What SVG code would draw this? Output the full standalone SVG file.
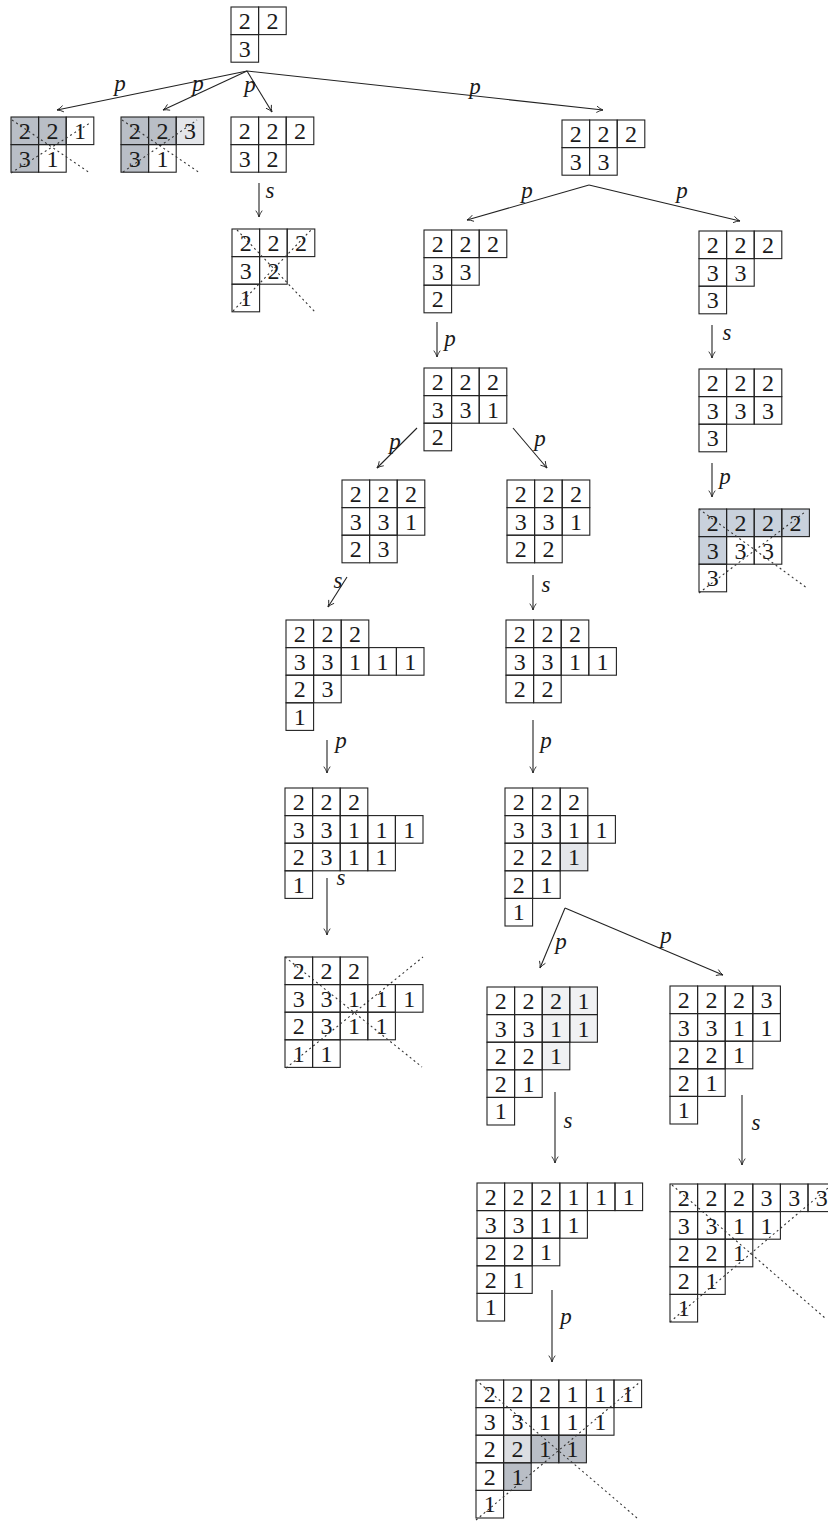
<svg xmlns="http://www.w3.org/2000/svg" width="828" height="1522" viewBox="0 0 828 1522">
<style>
.c{fill:none;stroke:#222;stroke-width:1.1}
.t{font-family:"Liberation Serif","DejaVu Serif",serif;font-size:24px;text-anchor:middle;fill:#1a1a1a}
.d{stroke:#333;stroke-width:1.1;stroke-dasharray:2 3;fill:none}
.a{stroke:#222;stroke-width:1.1;fill:none;marker-end:url(#ah)}
.l{font-family:"Liberation Serif","DejaVu Serif",serif;font-style:italic;font-size:23px;fill:#1a1a1a;text-anchor:middle}
.g{fill:#b9bec6;stroke:none}
.h{fill:#e4e6ea;stroke:none}
.b{fill:#c9d1dc;stroke:none}
</style>
<defs>
<marker id="ah" viewBox="0 0 10 10" refX="9" refY="5" markerWidth="8" markerHeight="8" markerUnits="userSpaceOnUse" orient="auto">
<path d="M1,1 Q5,4 9,5 Q5,6 1,9" fill="none" stroke="#222" stroke-width="1.1"/>
</marker>
</defs>
<rect width="828" height="1522" fill="#fff"/>

<g id="connectors">
<line class="a" x1="247" y1="71" x2="57" y2="110"/>
<line class="a" x1="247" y1="71" x2="163" y2="110"/>
<line class="a" x1="247" y1="71" x2="272" y2="112"/>
<line class="a" x1="247" y1="71" x2="603" y2="110"/>
<line class="a" x1="259" y1="183" x2="259" y2="217"/>
<line class="a" x1="589" y1="185" x2="467" y2="220"/>
<line class="a" x1="589" y1="185" x2="740" y2="221"/>
<line class="a" x1="437" y1="322" x2="437" y2="357"/>
<line class="a" x1="712" y1="325" x2="712" y2="358"/>
<line class="a" x1="417" y1="428" x2="377" y2="468"/>
<line class="a" x1="513" y1="428" x2="547" y2="468"/>
<line class="a" x1="712" y1="463" x2="712" y2="497"/>
<line class="a" x1="347" y1="577" x2="328" y2="607"/>
<line class="a" x1="533" y1="575" x2="533" y2="610"/>
<line class="a" x1="327" y1="740" x2="327" y2="773"/>
<line class="a" x1="533" y1="720" x2="533" y2="773"/>
<line class="a" x1="327" y1="878" x2="327" y2="935"/>
<line class="a" x1="565" y1="908" x2="540" y2="968"/>
<line class="a" x1="565" y1="908" x2="723" y2="975"/>
<line class="a" x1="555" y1="1092" x2="555" y2="1163"/>
<line class="a" x1="742" y1="1095" x2="742" y2="1165"/>
<line class="a" x1="552" y1="1290" x2="552" y2="1362"/>
<text class="l" x="120" y="91">p</text>
<text class="l" x="198" y="91">p</text>
<text class="l" x="250" y="92">p</text>
<text class="l" x="475" y="94">p</text>
<text class="l" x="270" y="198">s</text>
<text class="l" x="527" y="198">p</text>
<text class="l" x="682" y="198">p</text>
<text class="l" x="450" y="346">p</text>
<text class="l" x="727" y="340">s</text>
<text class="l" x="395" y="449">p</text>
<text class="l" x="540" y="446">p</text>
<text class="l" x="725" y="484">p</text>
<text class="l" x="338" y="588">s</text>
<text class="l" x="546" y="592">s</text>
<text class="l" x="341" y="748">p</text>
<text class="l" x="546" y="748">p</text>
<text class="l" x="341" y="885">s</text>
<text class="l" x="561" y="949">p</text>
<text class="l" x="666" y="943">p</text>
<text class="l" x="568" y="1128">s</text>
<text class="l" x="756" y="1130">s</text>
<text class="l" x="566" y="1324">p</text>
</g>

<g id="T0" transform="translate(231,7)">
<rect class="c" x="0" y="0" width="27.6" height="27.6"/><rect class="c" x="27.6" y="0" width="27.6" height="27.6"/>
<rect class="c" x="0" y="27.6" width="27.6" height="27.6"/>
<text class="t" x="13.8" y="22">2</text><text class="t" x="41.4" y="22">2</text>
<text class="t" x="13.8" y="49.6">3</text>
</g>

<g id="T1a" transform="translate(11,117)">
<rect class="g" x="0" y="0" width="55.2" height="27.6"/><rect class="g" x="0" y="27.6" width="27.6" height="27.6"/>
<rect class="c" x="0" y="0" width="27.6" height="27.6"/><rect class="c" x="27.6" y="0" width="27.6" height="27.6"/><rect class="c" x="55.2" y="0" width="27.6" height="27.6"/>
<rect class="c" x="0" y="27.6" width="27.6" height="27.6"/><rect class="c" x="27.6" y="27.6" width="27.6" height="27.6"/>
<text class="t" x="13.8" y="22">2</text><text class="t" x="41.4" y="22">2</text><text class="t" x="69" y="22">1</text>
<text class="t" x="13.8" y="49.6">3</text><text class="t" x="41.4" y="49.6">1</text>
<line class="d" x1="1" y1="3" x2="79" y2="56"/><line class="d" x1="0" y1="56" x2="79" y2="6"/>
</g>

<g id="T1b" transform="translate(121,117)">
<rect class="g" x="0" y="0" width="55.2" height="27.6"/><rect class="g" x="0" y="27.6" width="27.6" height="27.6"/><rect class="h" x="55.2" y="0" width="27.6" height="27.6"/>
<rect class="c" x="0" y="0" width="27.6" height="27.6"/><rect class="c" x="27.6" y="0" width="27.6" height="27.6"/><rect class="c" x="55.2" y="0" width="27.6" height="27.6"/>
<rect class="c" x="0" y="27.6" width="27.6" height="27.6"/><rect class="c" x="27.6" y="27.6" width="27.6" height="27.6"/>
<text class="t" x="13.8" y="22">2</text><text class="t" x="41.4" y="22">2</text><text class="t" x="69" y="22">3</text>
<text class="t" x="13.8" y="49.6">3</text><text class="t" x="41.4" y="49.6">1</text>
<line class="d" x1="1" y1="3" x2="79" y2="56"/><line class="d" x1="2" y1="55" x2="76" y2="3"/>
</g>

<g id="T1c" transform="translate(231,117)">
<rect class="c" x="0" y="0" width="27.6" height="27.6"/><rect class="c" x="27.6" y="0" width="27.6" height="27.6"/><rect class="c" x="55.2" y="0" width="27.6" height="27.6"/>
<rect class="c" x="0" y="27.6" width="27.6" height="27.6"/><rect class="c" x="27.6" y="27.6" width="27.6" height="27.6"/>
<text class="t" x="13.8" y="22">2</text><text class="t" x="41.4" y="22">2</text><text class="t" x="69" y="22">2</text>
<text class="t" x="13.8" y="49.6">3</text><text class="t" x="41.4" y="49.6">2</text>
</g>

<g id="T1d" transform="translate(562,120)">
<rect class="c" x="0" y="0" width="27.6" height="27.6"/><rect class="c" x="27.6" y="0" width="27.6" height="27.6"/><rect class="c" x="55.2" y="0" width="27.6" height="27.6"/>
<rect class="c" x="0" y="27.6" width="27.6" height="27.6"/><rect class="c" x="27.6" y="27.6" width="27.6" height="27.6"/>
<text class="t" x="13.8" y="22">2</text><text class="t" x="41.4" y="22">2</text><text class="t" x="69" y="22">2</text>
<text class="t" x="13.8" y="49.6">3</text><text class="t" x="41.4" y="49.6">3</text>
</g>

<g id="T2c" transform="translate(232,229)">
<rect class="c" x="0" y="0" width="27.6" height="27.6"/><rect class="c" x="27.6" y="0" width="27.6" height="27.6"/><rect class="c" x="55.2" y="0" width="27.6" height="27.6"/>
<rect class="c" x="0" y="27.6" width="27.6" height="27.6"/><rect class="c" x="27.6" y="27.6" width="27.6" height="27.6"/>
<rect class="c" x="0" y="55.2" width="27.6" height="27.6"/>
<text class="t" x="13.8" y="22">2</text><text class="t" x="41.4" y="22">2</text><text class="t" x="69" y="22">2</text>
<text class="t" x="13.8" y="49.6">3</text><text class="t" x="41.4" y="49.6">2</text>
<text class="t" x="13.8" y="77.2">1</text>
<line class="d" x1="5" y1="1" x2="83" y2="83"/><line class="d" x1="1" y1="82" x2="80" y2="0"/>
</g>

<g id="T2a" transform="translate(424,230)">
<rect class="c" x="0" y="0" width="27.6" height="27.6"/><rect class="c" x="27.6" y="0" width="27.6" height="27.6"/><rect class="c" x="55.2" y="0" width="27.6" height="27.6"/>
<rect class="c" x="0" y="27.6" width="27.6" height="27.6"/><rect class="c" x="27.6" y="27.6" width="27.6" height="27.6"/>
<rect class="c" x="0" y="55.2" width="27.6" height="27.6"/>
<text class="t" x="13.8" y="22">2</text><text class="t" x="41.4" y="22">2</text><text class="t" x="69" y="22">2</text>
<text class="t" x="13.8" y="49.6">3</text><text class="t" x="41.4" y="49.6">3</text>
<text class="t" x="13.8" y="77.2">2</text>
</g>

<g id="T2b" transform="translate(699,231)">
<rect class="c" x="0" y="0" width="27.6" height="27.6"/><rect class="c" x="27.6" y="0" width="27.6" height="27.6"/><rect class="c" x="55.2" y="0" width="27.6" height="27.6"/>
<rect class="c" x="0" y="27.6" width="27.6" height="27.6"/><rect class="c" x="27.6" y="27.6" width="27.6" height="27.6"/>
<rect class="c" x="0" y="55.2" width="27.6" height="27.6"/>
<text class="t" x="13.8" y="22">2</text><text class="t" x="41.4" y="22">2</text><text class="t" x="69" y="22">2</text>
<text class="t" x="13.8" y="49.6">3</text><text class="t" x="41.4" y="49.6">3</text>
<text class="t" x="13.8" y="77.2">3</text>
</g>

<g id="T3" transform="translate(424,368)">
<rect class="c" x="0" y="0" width="27.6" height="27.6"/><rect class="c" x="27.6" y="0" width="27.6" height="27.6"/><rect class="c" x="55.2" y="0" width="27.6" height="27.6"/>
<rect class="c" x="0" y="27.6" width="27.6" height="27.6"/><rect class="c" x="27.6" y="27.6" width="27.6" height="27.6"/><rect class="c" x="55.2" y="27.6" width="27.6" height="27.6"/>
<rect class="c" x="0" y="55.2" width="27.6" height="27.6"/>
<text class="t" x="13.8" y="22">2</text><text class="t" x="41.4" y="22">2</text><text class="t" x="69" y="22">2</text>
<text class="t" x="13.8" y="49.6">3</text><text class="t" x="41.4" y="49.6">3</text><text class="t" x="69" y="49.6">1</text>
<text class="t" x="13.8" y="77.2">2</text>
</g>

<g id="T3b" transform="translate(699,369)">
<rect class="c" x="0" y="0" width="27.6" height="27.6"/><rect class="c" x="27.6" y="0" width="27.6" height="27.6"/><rect class="c" x="55.2" y="0" width="27.6" height="27.6"/>
<rect class="c" x="0" y="27.6" width="27.6" height="27.6"/><rect class="c" x="27.6" y="27.6" width="27.6" height="27.6"/><rect class="c" x="55.2" y="27.6" width="27.6" height="27.6"/>
<rect class="c" x="0" y="55.2" width="27.6" height="27.6"/>
<text class="t" x="13.8" y="22">2</text><text class="t" x="41.4" y="22">2</text><text class="t" x="69" y="22">2</text>
<text class="t" x="13.8" y="49.6">3</text><text class="t" x="41.4" y="49.6">3</text><text class="t" x="69" y="49.6">3</text>
<text class="t" x="13.8" y="77.2">3</text>
</g>

<g id="T4a" transform="translate(342,480)">
<rect class="c" x="0" y="0" width="27.6" height="27.6"/><rect class="c" x="27.6" y="0" width="27.6" height="27.6"/><rect class="c" x="55.2" y="0" width="27.6" height="27.6"/>
<rect class="c" x="0" y="27.6" width="27.6" height="27.6"/><rect class="c" x="27.6" y="27.6" width="27.6" height="27.6"/><rect class="c" x="55.2" y="27.6" width="27.6" height="27.6"/>
<rect class="c" x="0" y="55.2" width="27.6" height="27.6"/><rect class="c" x="27.6" y="55.2" width="27.6" height="27.6"/>
<text class="t" x="13.8" y="22">2</text><text class="t" x="41.4" y="22">2</text><text class="t" x="69" y="22">2</text>
<text class="t" x="13.8" y="49.6">3</text><text class="t" x="41.4" y="49.6">3</text><text class="t" x="69" y="49.6">1</text>
<text class="t" x="13.8" y="77.2">2</text><text class="t" x="41.4" y="77.2">3</text>
</g>

<g id="T4b" transform="translate(507,480)">
<rect class="c" x="0" y="0" width="27.6" height="27.6"/><rect class="c" x="27.6" y="0" width="27.6" height="27.6"/><rect class="c" x="55.2" y="0" width="27.6" height="27.6"/>
<rect class="c" x="0" y="27.6" width="27.6" height="27.6"/><rect class="c" x="27.6" y="27.6" width="27.6" height="27.6"/><rect class="c" x="55.2" y="27.6" width="27.6" height="27.6"/>
<rect class="c" x="0" y="55.2" width="27.6" height="27.6"/><rect class="c" x="27.6" y="55.2" width="27.6" height="27.6"/>
<text class="t" x="13.8" y="22">2</text><text class="t" x="41.4" y="22">2</text><text class="t" x="69" y="22">2</text>
<text class="t" x="13.8" y="49.6">3</text><text class="t" x="41.4" y="49.6">3</text><text class="t" x="69" y="49.6">1</text>
<text class="t" x="13.8" y="77.2">2</text><text class="t" x="41.4" y="77.2">2</text>
</g>

<g id="T4c" transform="translate(699,509)">
<rect class="b" x="0" y="0" width="110.4" height="27.6"/><rect class="b" x="0" y="27.6" width="27.6" height="27.6"/>
<rect class="c" x="0" y="0" width="27.6" height="27.6"/><rect class="c" x="27.6" y="0" width="27.6" height="27.6"/><rect class="c" x="55.2" y="0" width="27.6" height="27.6"/><rect class="c" x="82.8" y="0" width="27.6" height="27.6"/>
<rect class="c" x="0" y="27.6" width="27.6" height="27.6"/><rect class="c" x="27.6" y="27.6" width="27.6" height="27.6"/><rect class="c" x="55.2" y="27.6" width="27.6" height="27.6"/>
<rect class="c" x="0" y="55.2" width="27.6" height="27.6"/>
<text class="t" x="13.8" y="22">2</text><text class="t" x="41.4" y="22">2</text><text class="t" x="69" y="22">2</text><text class="t" x="96.6" y="22">2</text>
<text class="t" x="13.8" y="49.6">3</text><text class="t" x="41.4" y="49.6">3</text><text class="t" x="69" y="49.6">3</text>
<text class="t" x="13.8" y="77.2">3</text>
<line class="d" x1="0" y1="0" x2="108" y2="79"/><line class="d" x1="0" y1="84" x2="106" y2="3"/>
</g>

<g id="T5a" transform="translate(286,620)">
<rect class="c" x="0" y="0" width="27.6" height="27.6"/><rect class="c" x="27.6" y="0" width="27.6" height="27.6"/><rect class="c" x="55.2" y="0" width="27.6" height="27.6"/>
<rect class="c" x="0" y="27.6" width="27.6" height="27.6"/><rect class="c" x="27.6" y="27.6" width="27.6" height="27.6"/><rect class="c" x="55.2" y="27.6" width="27.6" height="27.6"/><rect class="c" x="82.8" y="27.6" width="27.6" height="27.6"/><rect class="c" x="110.4" y="27.6" width="27.6" height="27.6"/>
<rect class="c" x="0" y="55.2" width="27.6" height="27.6"/><rect class="c" x="27.6" y="55.2" width="27.6" height="27.6"/>
<rect class="c" x="0" y="82.8" width="27.6" height="27.6"/>
<text class="t" x="13.8" y="22">2</text><text class="t" x="41.4" y="22">2</text><text class="t" x="69" y="22">2</text>
<text class="t" x="13.8" y="49.6">3</text><text class="t" x="41.4" y="49.6">3</text><text class="t" x="69" y="49.6">1</text><text class="t" x="96.6" y="49.6">1</text><text class="t" x="124.2" y="49.6">1</text>
<text class="t" x="13.8" y="77.2">2</text><text class="t" x="41.4" y="77.2">3</text>
<text class="t" x="13.8" y="104.8">1</text>
</g>

<g id="T5b" transform="translate(506,620)">
<rect class="c" x="0" y="0" width="27.6" height="27.6"/><rect class="c" x="27.6" y="0" width="27.6" height="27.6"/><rect class="c" x="55.2" y="0" width="27.6" height="27.6"/>
<rect class="c" x="0" y="27.6" width="27.6" height="27.6"/><rect class="c" x="27.6" y="27.6" width="27.6" height="27.6"/><rect class="c" x="55.2" y="27.6" width="27.6" height="27.6"/><rect class="c" x="82.8" y="27.6" width="27.6" height="27.6"/>
<rect class="c" x="0" y="55.2" width="27.6" height="27.6"/><rect class="c" x="27.6" y="55.2" width="27.6" height="27.6"/>
<text class="t" x="13.8" y="22">2</text><text class="t" x="41.4" y="22">2</text><text class="t" x="69" y="22">2</text>
<text class="t" x="13.8" y="49.6">3</text><text class="t" x="41.4" y="49.6">3</text><text class="t" x="69" y="49.6">1</text><text class="t" x="96.6" y="49.6">1</text>
<text class="t" x="13.8" y="77.2">2</text><text class="t" x="41.4" y="77.2">2</text>
</g>

<g id="T6a" transform="translate(285,788)">
<rect class="c" x="0" y="0" width="27.6" height="27.6"/><rect class="c" x="27.6" y="0" width="27.6" height="27.6"/><rect class="c" x="55.2" y="0" width="27.6" height="27.6"/>
<rect class="c" x="0" y="27.6" width="27.6" height="27.6"/><rect class="c" x="27.6" y="27.6" width="27.6" height="27.6"/><rect class="c" x="55.2" y="27.6" width="27.6" height="27.6"/><rect class="c" x="82.8" y="27.6" width="27.6" height="27.6"/><rect class="c" x="110.4" y="27.6" width="27.6" height="27.6"/>
<rect class="c" x="0" y="55.2" width="27.6" height="27.6"/><rect class="c" x="27.6" y="55.2" width="27.6" height="27.6"/><rect class="c" x="55.2" y="55.2" width="27.6" height="27.6"/><rect class="c" x="82.8" y="55.2" width="27.6" height="27.6"/>
<rect class="c" x="0" y="82.8" width="27.6" height="27.6"/>
<text class="t" x="13.8" y="22">2</text><text class="t" x="41.4" y="22">2</text><text class="t" x="69" y="22">2</text>
<text class="t" x="13.8" y="49.6">3</text><text class="t" x="41.4" y="49.6">3</text><text class="t" x="69" y="49.6">1</text><text class="t" x="96.6" y="49.6">1</text><text class="t" x="124.2" y="49.6">1</text>
<text class="t" x="13.8" y="77.2">2</text><text class="t" x="41.4" y="77.2">3</text><text class="t" x="69" y="77.2">1</text><text class="t" x="96.6" y="77.2">1</text>
<text class="t" x="13.8" y="104.8">1</text>
</g>

<g id="T6b" transform="translate(505,788)">
<rect class="h" x="55.2" y="55.2" width="27.6" height="27.6"/>
<rect class="c" x="0" y="0" width="27.6" height="27.6"/><rect class="c" x="27.6" y="0" width="27.6" height="27.6"/><rect class="c" x="55.2" y="0" width="27.6" height="27.6"/>
<rect class="c" x="0" y="27.6" width="27.6" height="27.6"/><rect class="c" x="27.6" y="27.6" width="27.6" height="27.6"/><rect class="c" x="55.2" y="27.6" width="27.6" height="27.6"/><rect class="c" x="82.8" y="27.6" width="27.6" height="27.6"/>
<rect class="c" x="0" y="55.2" width="27.6" height="27.6"/><rect class="c" x="27.6" y="55.2" width="27.6" height="27.6"/><rect class="c" x="55.2" y="55.2" width="27.6" height="27.6"/>
<rect class="c" x="0" y="82.8" width="27.6" height="27.6"/><rect class="c" x="27.6" y="82.8" width="27.6" height="27.6"/>
<rect class="c" x="0" y="110.4" width="27.6" height="27.6"/>
<text class="t" x="13.8" y="22">2</text><text class="t" x="41.4" y="22">2</text><text class="t" x="69" y="22">2</text>
<text class="t" x="13.8" y="49.6">3</text><text class="t" x="41.4" y="49.6">3</text><text class="t" x="69" y="49.6">1</text><text class="t" x="96.6" y="49.6">1</text>
<text class="t" x="13.8" y="77.2">2</text><text class="t" x="41.4" y="77.2">2</text><text class="t" x="69" y="77.2">1</text>
<text class="t" x="13.8" y="104.8">2</text><text class="t" x="41.4" y="104.8">1</text>
<text class="t" x="13.8" y="132.4">1</text>
</g>

<g id="T7a" transform="translate(285,957)">
<rect class="c" x="0" y="0" width="27.6" height="27.6"/><rect class="c" x="27.6" y="0" width="27.6" height="27.6"/><rect class="c" x="55.2" y="0" width="27.6" height="27.6"/>
<rect class="c" x="0" y="27.6" width="27.6" height="27.6"/><rect class="c" x="27.6" y="27.6" width="27.6" height="27.6"/><rect class="c" x="55.2" y="27.6" width="27.6" height="27.6"/><rect class="c" x="82.8" y="27.6" width="27.6" height="27.6"/><rect class="c" x="110.4" y="27.6" width="27.6" height="27.6"/>
<rect class="c" x="0" y="55.2" width="27.6" height="27.6"/><rect class="c" x="27.6" y="55.2" width="27.6" height="27.6"/><rect class="c" x="55.2" y="55.2" width="27.6" height="27.6"/><rect class="c" x="82.8" y="55.2" width="27.6" height="27.6"/>
<rect class="c" x="0" y="82.8" width="27.6" height="27.6"/><rect class="c" x="27.6" y="82.8" width="27.6" height="27.6"/>
<text class="t" x="13.8" y="22">2</text><text class="t" x="41.4" y="22">2</text><text class="t" x="69" y="22">2</text>
<text class="t" x="13.8" y="49.6">3</text><text class="t" x="41.4" y="49.6">3</text><text class="t" x="69" y="49.6">1</text><text class="t" x="96.6" y="49.6">1</text><text class="t" x="124.2" y="49.6">1</text>
<text class="t" x="13.8" y="77.2">2</text><text class="t" x="41.4" y="77.2">3</text><text class="t" x="69" y="77.2">1</text><text class="t" x="96.6" y="77.2">1</text>
<text class="t" x="13.8" y="104.8">1</text><text class="t" x="41.4" y="104.8">1</text>
<line class="d" x1="0" y1="0" x2="137" y2="110"/><line class="d" x1="1" y1="111" x2="138" y2="0"/>
</g>

<g id="T7b" transform="translate(487,987)">
<rect x="55.2" y="0" width="55.2" height="55.2" fill="#f0f1f3"/><rect x="55.2" y="55.2" width="27.6" height="27.6" fill="#f0f1f3"/>
<rect class="c" x="0" y="0" width="27.6" height="27.6"/><rect class="c" x="27.6" y="0" width="27.6" height="27.6"/><rect class="c" x="55.2" y="0" width="27.6" height="27.6"/><rect class="c" x="82.8" y="0" width="27.6" height="27.6"/>
<rect class="c" x="0" y="27.6" width="27.6" height="27.6"/><rect class="c" x="27.6" y="27.6" width="27.6" height="27.6"/><rect class="c" x="55.2" y="27.6" width="27.6" height="27.6"/><rect class="c" x="82.8" y="27.6" width="27.6" height="27.6"/>
<rect class="c" x="0" y="55.2" width="27.6" height="27.6"/><rect class="c" x="27.6" y="55.2" width="27.6" height="27.6"/><rect class="c" x="55.2" y="55.2" width="27.6" height="27.6"/>
<rect class="c" x="0" y="82.8" width="27.6" height="27.6"/><rect class="c" x="27.6" y="82.8" width="27.6" height="27.6"/>
<rect class="c" x="0" y="110.4" width="27.6" height="27.6"/>
<text class="t" x="13.8" y="22">2</text><text class="t" x="41.4" y="22">2</text><text class="t" x="69" y="22">2</text><text class="t" x="96.6" y="22">1</text>
<text class="t" x="13.8" y="49.6">3</text><text class="t" x="41.4" y="49.6">3</text><text class="t" x="69" y="49.6">1</text><text class="t" x="96.6" y="49.6">1</text>
<text class="t" x="13.8" y="77.2">2</text><text class="t" x="41.4" y="77.2">2</text><text class="t" x="69" y="77.2">1</text>
<text class="t" x="13.8" y="104.8">2</text><text class="t" x="41.4" y="104.8">1</text>
<text class="t" x="13.8" y="132.4">1</text>
</g>

<g id="T7c" transform="translate(670,986)">
<rect class="c" x="0" y="0" width="27.6" height="27.6"/><rect class="c" x="27.6" y="0" width="27.6" height="27.6"/><rect class="c" x="55.2" y="0" width="27.6" height="27.6"/><rect class="c" x="82.8" y="0" width="27.6" height="27.6"/>
<rect class="c" x="0" y="27.6" width="27.6" height="27.6"/><rect class="c" x="27.6" y="27.6" width="27.6" height="27.6"/><rect class="c" x="55.2" y="27.6" width="27.6" height="27.6"/><rect class="c" x="82.8" y="27.6" width="27.6" height="27.6"/>
<rect class="c" x="0" y="55.2" width="27.6" height="27.6"/><rect class="c" x="27.6" y="55.2" width="27.6" height="27.6"/><rect class="c" x="55.2" y="55.2" width="27.6" height="27.6"/>
<rect class="c" x="0" y="82.8" width="27.6" height="27.6"/><rect class="c" x="27.6" y="82.8" width="27.6" height="27.6"/>
<rect class="c" x="0" y="110.4" width="27.6" height="27.6"/>
<text class="t" x="13.8" y="22">2</text><text class="t" x="41.4" y="22">2</text><text class="t" x="69" y="22">2</text><text class="t" x="96.6" y="22">3</text>
<text class="t" x="13.8" y="49.6">3</text><text class="t" x="41.4" y="49.6">3</text><text class="t" x="69" y="49.6">1</text><text class="t" x="96.6" y="49.6">1</text>
<text class="t" x="13.8" y="77.2">2</text><text class="t" x="41.4" y="77.2">2</text><text class="t" x="69" y="77.2">1</text>
<text class="t" x="13.8" y="104.8">2</text><text class="t" x="41.4" y="104.8">1</text>
<text class="t" x="13.8" y="132.4">1</text>
</g>

<g id="T8a" transform="translate(477,1183)">
<rect class="c" x="0" y="0" width="27.6" height="27.6"/><rect class="c" x="27.6" y="0" width="27.6" height="27.6"/><rect class="c" x="55.2" y="0" width="27.6" height="27.6"/><rect class="c" x="82.8" y="0" width="27.6" height="27.6"/><rect class="c" x="110.4" y="0" width="27.6" height="27.6"/><rect class="c" x="138" y="0" width="27.6" height="27.6"/>
<rect class="c" x="0" y="27.6" width="27.6" height="27.6"/><rect class="c" x="27.6" y="27.6" width="27.6" height="27.6"/><rect class="c" x="55.2" y="27.6" width="27.6" height="27.6"/><rect class="c" x="82.8" y="27.6" width="27.6" height="27.6"/>
<rect class="c" x="0" y="55.2" width="27.6" height="27.6"/><rect class="c" x="27.6" y="55.2" width="27.6" height="27.6"/><rect class="c" x="55.2" y="55.2" width="27.6" height="27.6"/>
<rect class="c" x="0" y="82.8" width="27.6" height="27.6"/><rect class="c" x="27.6" y="82.8" width="27.6" height="27.6"/>
<rect class="c" x="0" y="110.4" width="27.6" height="27.6"/>
<text class="t" x="13.8" y="22">2</text><text class="t" x="41.4" y="22">2</text><text class="t" x="69" y="22">2</text><text class="t" x="96.6" y="22">1</text><text class="t" x="124.2" y="22">1</text><text class="t" x="151.8" y="22">1</text>
<text class="t" x="13.8" y="49.6">3</text><text class="t" x="41.4" y="49.6">3</text><text class="t" x="69" y="49.6">1</text><text class="t" x="96.6" y="49.6">1</text>
<text class="t" x="13.8" y="77.2">2</text><text class="t" x="41.4" y="77.2">2</text><text class="t" x="69" y="77.2">1</text>
<text class="t" x="13.8" y="104.8">2</text><text class="t" x="41.4" y="104.8">1</text>
<text class="t" x="13.8" y="132.4">1</text>
</g>

<g id="T8b" transform="translate(670,1184)">
<rect class="c" x="0" y="0" width="27.6" height="27.6"/><rect class="c" x="27.6" y="0" width="27.6" height="27.6"/><rect class="c" x="55.2" y="0" width="27.6" height="27.6"/><rect class="c" x="82.8" y="0" width="27.6" height="27.6"/><rect class="c" x="110.4" y="0" width="27.6" height="27.6"/><rect class="c" x="138" y="0" width="27.6" height="27.6"/>
<rect class="c" x="0" y="27.6" width="27.6" height="27.6"/><rect class="c" x="27.6" y="27.6" width="27.6" height="27.6"/><rect class="c" x="55.2" y="27.6" width="27.6" height="27.6"/><rect class="c" x="82.8" y="27.6" width="27.6" height="27.6"/>
<rect class="c" x="0" y="55.2" width="27.6" height="27.6"/><rect class="c" x="27.6" y="55.2" width="27.6" height="27.6"/><rect class="c" x="55.2" y="55.2" width="27.6" height="27.6"/>
<rect class="c" x="0" y="82.8" width="27.6" height="27.6"/><rect class="c" x="27.6" y="82.8" width="27.6" height="27.6"/>
<rect class="c" x="0" y="110.4" width="27.6" height="27.6"/>
<text class="t" x="13.8" y="22">2</text><text class="t" x="41.4" y="22">2</text><text class="t" x="69" y="22">2</text><text class="t" x="96.6" y="22">3</text><text class="t" x="124.2" y="22">3</text><text class="t" x="151.8" y="22">3</text>
<text class="t" x="13.8" y="49.6">3</text><text class="t" x="41.4" y="49.6">3</text><text class="t" x="69" y="49.6">1</text><text class="t" x="96.6" y="49.6">1</text>
<text class="t" x="13.8" y="77.2">2</text><text class="t" x="41.4" y="77.2">2</text><text class="t" x="69" y="77.2">1</text>
<text class="t" x="13.8" y="104.8">2</text><text class="t" x="41.4" y="104.8">1</text>
<text class="t" x="13.8" y="132.4">1</text>
<line class="d" x1="2" y1="1" x2="155" y2="134"/><line class="d" x1="0" y1="138" x2="158" y2="4"/>
</g>

<g id="T9" transform="translate(476,1380)">
<rect x="27.6" y="55.2" width="27.6" height="27.6" fill="#dcdee2"/>
<rect class="g" x="55.2" y="55.2" width="55.2" height="27.6"/><rect class="g" x="27.6" y="82.8" width="27.6" height="27.6"/>
<rect class="c" x="0" y="0" width="27.6" height="27.6"/><rect class="c" x="27.6" y="0" width="27.6" height="27.6"/><rect class="c" x="55.2" y="0" width="27.6" height="27.6"/><rect class="c" x="82.8" y="0" width="27.6" height="27.6"/><rect class="c" x="110.4" y="0" width="27.6" height="27.6"/><rect class="c" x="138" y="0" width="27.6" height="27.6"/>
<rect class="c" x="0" y="27.6" width="27.6" height="27.6"/><rect class="c" x="27.6" y="27.6" width="27.6" height="27.6"/><rect class="c" x="55.2" y="27.6" width="27.6" height="27.6"/><rect class="c" x="82.8" y="27.6" width="27.6" height="27.6"/><rect class="c" x="110.4" y="27.6" width="27.6" height="27.6"/>
<rect class="c" x="0" y="55.2" width="27.6" height="27.6"/><rect class="c" x="27.6" y="55.2" width="27.6" height="27.6"/><rect class="c" x="55.2" y="55.2" width="27.6" height="27.6"/><rect class="c" x="82.8" y="55.2" width="27.6" height="27.6"/>
<rect class="c" x="0" y="82.8" width="27.6" height="27.6"/><rect class="c" x="27.6" y="82.8" width="27.6" height="27.6"/>
<rect class="c" x="0" y="110.4" width="27.6" height="27.6"/>
<text class="t" x="13.8" y="22">2</text><text class="t" x="41.4" y="22">2</text><text class="t" x="69" y="22">2</text><text class="t" x="96.6" y="22">1</text><text class="t" x="124.2" y="22">1</text><text class="t" x="151.8" y="22">1</text>
<text class="t" x="13.8" y="49.6">3</text><text class="t" x="41.4" y="49.6">3</text><text class="t" x="69" y="49.6">1</text><text class="t" x="96.6" y="49.6">1</text><text class="t" x="124.2" y="49.6">1</text>
<text class="t" x="13.8" y="77.2">2</text><text class="t" x="41.4" y="77.2">2</text><text class="t" x="69" y="77.2">1</text><text class="t" x="96.6" y="77.2">1</text>
<text class="t" x="13.8" y="104.8">2</text><text class="t" x="41.4" y="104.8">1</text>
<text class="t" x="13.8" y="132.4">1</text>
<line class="d" x1="0" y1="0" x2="161" y2="138"/><line class="d" x1="0" y1="140" x2="164" y2="2"/>
</g>
</svg>
